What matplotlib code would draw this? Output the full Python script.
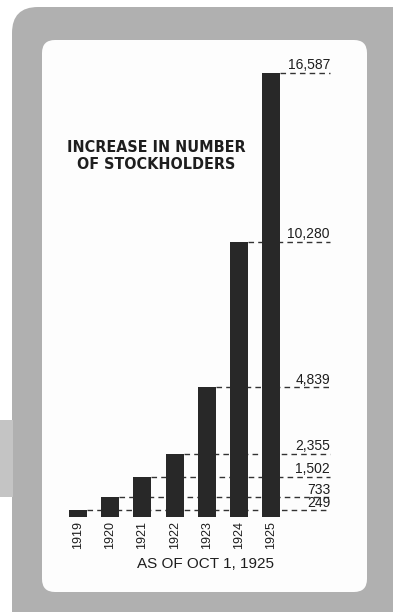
import matplotlib.pyplot as plt
from matplotlib.patches import FancyBboxPatch, Rectangle

# data
years = ['1919', '1920', '1921', '1922', '1923', '1924', '1925']
stockholders = [249, 733, 1502, 2355, 4839, 10280, 16587]
value_labels = ['249', '733', '1,502', '2,355', '4,839', '10,280', '16,587']

W, H = 393, 612
fig = plt.figure(figsize=(W / 100, H / 100), dpi=100, facecolor='white')


def inch(px):
    return px / 100


# gray frame and white card (pixel values measured from top-left)
frame = FancyBboxPatch((inch(12), inch(-30)), inch(W + 30 - 12), inch(H + 30 - 7),
                       boxstyle='round,pad=0,rounding_size=%f' % inch(26),
                       transform=fig.dpi_scale_trans, facecolor='#b0b0b0',
                       edgecolor='none', zorder=-3)
fig.patches.append(frame)
patch = Rectangle((0, inch(H - 497)), inch(13), inch(77), transform=fig.dpi_scale_trans,
                  facecolor='#c4c4c4', edgecolor='none', zorder=-3)
fig.patches.append(patch)
card = FancyBboxPatch((inch(42), inch(H - 592)), inch(367 - 42), inch(592 - 40),
                      boxstyle='round,pad=0,rounding_size=%f' % inch(13),
                      transform=fig.dpi_scale_trans, facecolor='#fdfdfd',
                      edgecolor='none', zorder=-2)
fig.patches.append(card)

# axes placed over the card: baseline at y=517px, top at 40px
ax = fig.add_axes([42 / W, (H - 517) / H, 325 / W, 477 / H])
ax.patch.set_visible(False)
x0, step = 78, 32.2
ax.set_xlim((42 - x0) / step, (367 - x0) / step)
ax.set_ylim(0, stockholders[-1] * 477 / 444)

bw = 0.56
xs = list(range(len(years)))
x_end = (330 - x0) / step
ax.hlines(stockholders, [x + bw / 2 for x in xs], x_end, colors='#333333',
          linestyles=(0, (4, 3)), linewidth=1.0, zorder=1)
ax.bar(xs, stockholders, width=bw, color='#282828', zorder=2)

for v, lab in zip(stockholders, value_labels):
    ax.annotate(lab, (x_end, v), xytext=(0, 0.5), textcoords='offset points',
                ha='right', va='bottom', fontsize=10, color='#1e1e1e',
                family='Liberation Sans')

ax.set_xticks(xs)
ax.set_xticklabels(years, rotation=90, fontsize=9, color='#1e1e1e',
                   family='Liberation Sans')
ax.tick_params(axis='x', length=0, pad=3)
ax.set_yticks([])
for s in ax.spines.values():
    s.set_visible(False)

fig.text(156 / W, 1 - 140 / H, 'INCREASE IN NUMBER\nOF STOCKHOLDERS', ha='center',
         va='top', multialignment='center', fontsize=11.5, fontweight='bold',
         color='#1e1e1e', family='DejaVu Sans', fontstretch='condensed',
         linespacing=1.15)
fig.text(205 / W, 1 - 564 / H, 'AS OF OCT 1, 1925', ha='center', va='center',
         fontsize=11, color='#1e1e1e', family='Liberation Sans')

fig.savefig('out.png', dpi=100, facecolor='white')
